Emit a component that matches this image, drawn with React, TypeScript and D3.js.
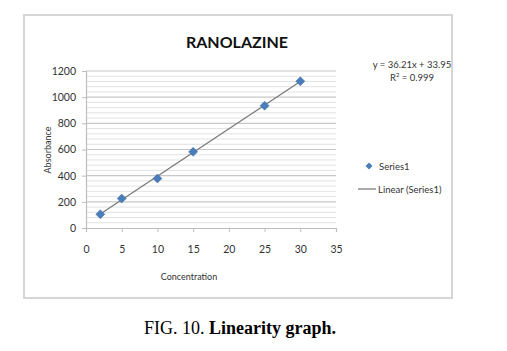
import React, { useEffect, useRef } from 'react';
import * as d3 from 'd3';

const concentration = [2, 5, 10, 15, 25, 30];
const absorbance = [105, 225, 378, 582, 935, 1122];
const slope = 36.21;
const intercept = 33.95;
const xTicks = [0, 5, 10, 15, 20, 25, 30, 35];
const yTicks = [0, 200, 400, 600, 800, 1000, 1200];
const minorYTicks = d3.range(0, 1201, 40);

const App: React.FC = () => {
  const svgRef = useRef<SVGSVGElement>(null);
  const width = 507;
  const height = 351;

  useEffect(() => {
    if (!svgRef.current) return;
    const svg = d3.select(svgRef.current);
    svg.selectAll('*').remove();
    const font = 'Lato, "Open Sans", sans-serif';

    const x = d3.scaleLinear().domain([0, 35]).range([86, 336]);
    const y = d3.scaleLinear().domain([0, 1200]).range([228, 71]);

    // outer chart frame
    svg.append('rect')
      .attr('x', 24).attr('y', 15).attr('width', 428).attr('height', 283)
      .attr('fill', '#fff').attr('stroke', '#d6d6d6').attr('stroke-width', 2);

    // gridlines
    svg.append('g').selectAll('line.minor')
      .data(minorYTicks.filter(v => v % 200 !== 0))
      .enter().append('line')
      .attr('x1', x(0)).attr('x2', x(35))
      .attr('y1', d => y(d)).attr('y2', d => y(d))
      .attr('stroke', '#e2e2e2').attr('stroke-width', 1);
    svg.append('g').selectAll('line.major')
      .data(yTicks.filter(v => v > 0))
      .enter().append('line')
      .attr('x1', x(0)).attr('x2', x(35))
      .attr('y1', d => y(d)).attr('y2', d => y(d))
      .attr('stroke', '#c8c8c8').attr('stroke-width', 1.2);

    // axes
    const xAxis = svg.append('g')
      .attr('transform', `translate(0,${y(0)})`)
      .call(d3.axisBottom(x).tickValues(xTicks).tickFormat(d3.format('d')).tickSize(4).tickPadding(14));
    const yAxis = svg.append('g')
      .attr('transform', `translate(${x(0)},0)`)
      .call(d3.axisLeft(y).tickValues(yTicks).tickFormat(d3.format('d')).tickSize(4).tickPadding(6));
    [xAxis, yAxis].forEach(g => {
      g.select('.domain').attr('stroke', '#bdbdbd').attr('stroke-width', 1.2);
      g.selectAll('.tick line').attr('stroke', '#bdbdbd');
      g.selectAll('.tick text')
        .attr('font-family', font).attr('font-size', 10.5).attr('fill', '#333');
    });

    // trendline
    const line = d3.line<number>()
      .x(d => x(d))
      .y(d => y(slope * d + intercept));
    svg.append('path')
      .datum([concentration[0], concentration[concentration.length - 1]])
      .attr('d', line)
      .attr('fill', 'none').attr('stroke', '#7a7a7a').attr('stroke-width', 1.3);

    // points (square diamonds)
    const diamond = 'M0,-4.5L4.5,0L0,4.5L-4.5,0Z';
    svg.append('g').selectAll('path')
      .data(concentration)
      .enter().append('path')
      .attr('d', diamond)
      .attr('transform', (d, i) => `translate(${x(d)},${y(absorbance[i])})`)
      .attr('fill', '#4a7ebb').attr('stroke', '#3a6aa5').attr('stroke-width', 0.5);

    // title
    svg.append('text')
      .attr('x', 237).attr('y', 48).attr('text-anchor', 'middle')
      .attr('font-family', font).attr('font-weight', 'bold').attr('font-size', 16)
      .attr('fill', '#111').text('RANOLAZINE');

    // axis titles
    svg.append('text')
      .attr('x', 189).attr('y', 280).attr('text-anchor', 'middle')
      .attr('font-family', font).attr('font-size', 9).attr('fill', '#333')
      .text('Concentration');
    svg.append('text')
      .attr('transform', 'translate(51,150) rotate(-90)').attr('text-anchor', 'middle')
      .attr('font-family', font).attr('font-size', 9).attr('fill', '#333')
      .text('Absorbance');

    // equation
    svg.append('text')
      .attr('x', 412).attr('y', 68).attr('text-anchor', 'middle')
      .attr('font-family', font).attr('font-size', 9.5).attr('fill', '#333')
      .text(`y = ${slope}x + ${intercept}`);
    const r2 = svg.append('text')
      .attr('x', 412).attr('y', 81).attr('text-anchor', 'middle')
      .attr('font-family', font).attr('font-size', 9.5).attr('fill', '#333');
    r2.append('tspan').text('R');
    r2.append('tspan').attr('font-size', 6).attr('dy', -4).text('2');
    r2.append('tspan').attr('dy', 4).text(' = 0.999');

    // legend
    svg.append('path')
      .attr('d', 'M0,-3.5L3.5,0L0,3.5L-3.5,0Z')
      .attr('transform', 'translate(369,166)')
      .attr('fill', '#4a7ebb');
    svg.append('text')
      .attr('x', 379).attr('y', 170)
      .attr('font-family', font).attr('font-size', 9.5).attr('fill', '#333')
      .text('Series1');
    svg.append('line')
      .attr('x1', 358).attr('x2', 376).attr('y1', 189).attr('y2', 189)
      .attr('stroke', '#7a7a7a').attr('stroke-width', 1.3);
    svg.append('text')
      .attr('x', 378).attr('y', 193)
      .attr('font-family', font).attr('font-size', 9.5).attr('fill', '#333')
      .text('Linear (Series1)');

    // caption
    const cap = svg.append('text')
      .attr('x', 240).attr('y', 334).attr('text-anchor', 'middle')
      .attr('font-family', '"Liberation Serif", serif').attr('font-size', 18)
      .attr('fill', '#000');
    cap.append('tspan').text('FIG. 10. ');
    cap.append('tspan').attr('font-weight', 'bold').text('Linearity graph.');
  }, []);

  return (
    <svg
      ref={svgRef}
      width={width}
      height={height}
      style={{ position: 'absolute', left: 0, top: 0, background: '#fff' }}
    />
  );
};

export default App;
